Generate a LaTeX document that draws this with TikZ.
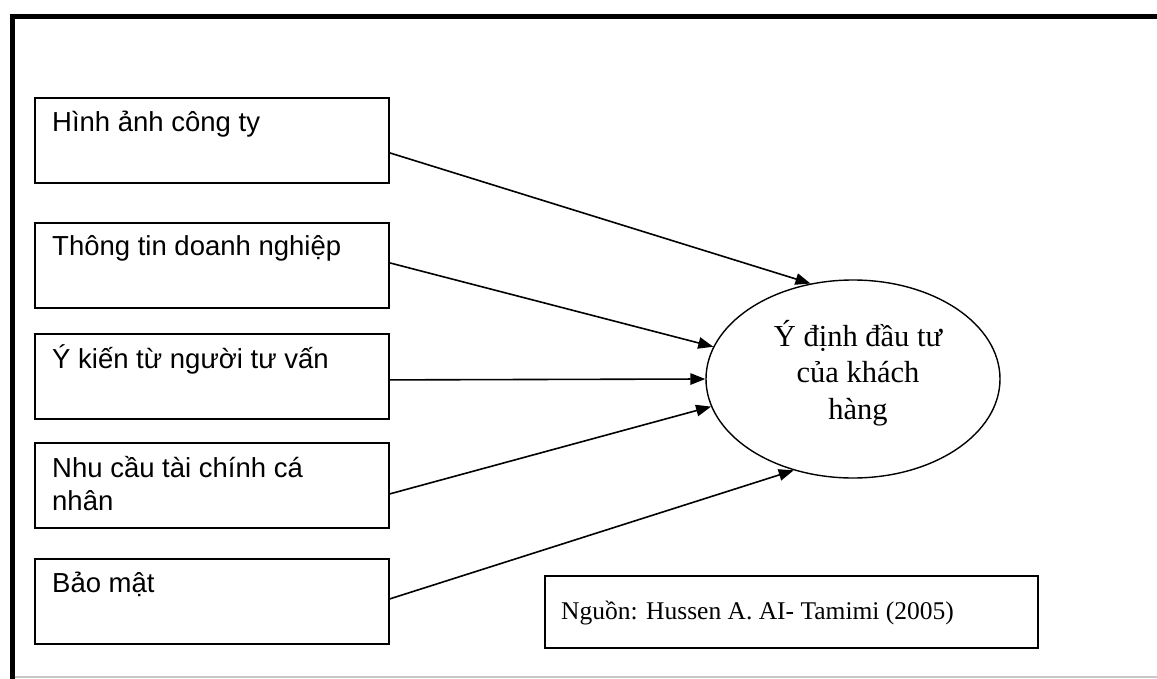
\documentclass[tikz,border=0pt]{standalone}
\usepackage{fontspec}
\setmainfont{Liberation Serif}
\newfontfamily\arialf{Liberation Sans}
\usetikzlibrary{arrows.meta,shapes.geometric,calc}
\begin{document}
\begin{tikzpicture}[x=1pt,y=-1pt,
  factor/.style={draw, line width=1.8pt, minimum width=354pt, minimum height=85pt, inner sep=0pt, anchor=north west},
  ftext/.style={anchor=base west, inner sep=0pt, font=\arialf\fontsize{27.5}{33}\selectfont, align=left},
  link/.style={line width=1.6pt, -{Triangle[length=15pt,width=11.5pt]}},
]
\useasboundingbox (0,0) rectangle (1157,679);
% outer frame
\draw[line width=5pt] (12,679) -- (12,17) -- (1157,17);
\draw[black!22, line width=1.5pt] (14.5,677) -- (1157,677);

% factor boxes
\node[factor] (b1) at (34,97) {};
\node[factor] (b2) at (34,222) {};
\node[factor] (b3) at (34,333) {};
\node[factor] (b4) at (34,442) {};
\node[factor] (b5) at (34,558) {};

\node[ftext] (t1) at ([xshift=18pt,yshift=-35pt]b1.north west) {Hình ảnh công ty};
\node[ftext] (t2) at ([xshift=18pt,yshift=-34pt]b2.north west) {Thông tin doanh nghiệp};
\node[ftext] (t3) at ([xshift=18pt,yshift=-35pt]b3.north west) {Ý kiến từ người tư vấn};
\node[ftext] (t4) at ([xshift=18pt,yshift=-68pt]b4.north west) {Nhu cầu tài chính cá\\nhân};
\node[ftext] (t5) at ([xshift=18pt,yshift=-34pt]b5.north west) {Bảo mật};

% outcome ellipse
\node[draw, ellipse, line width=1.4pt, minimum width=294pt, minimum height=198pt, inner sep=0pt] (ell) at (853,379) {};
\node[font=\fontsize{30.5}{36.5}\selectfont, align=center, inner sep=0pt] (et) at (858,373) {Ý định đầu tư\\của khách\\hàng};

% source box
\node[draw, line width=1.8pt, minimum width=493pt, minimum height=72pt, anchor=north west, inner sep=0pt] (src) at (544,575) {};
\node[anchor=base west, inner sep=0pt, font=\fontsize{25.5}{30}\selectfont] (srct) at ([xshift=17pt,yshift=-44pt]src.north west) {Nguồn: Hussen A. AI- Tamimi (2005)};

% arrows
\draw[link] ([yshift=-12.5pt]b1.east) -- (ell.114.7);
\draw[link] ([yshift=2.5pt]b2.east) -- (ell.167.8);
\draw[link] ([yshift=-3.5pt]b3.east) -- (ell.180);
\draw[link] ([yshift=-8.5pt]b4.east) -- (ell.191.2);
\draw[link] ([yshift=2.5pt]b5.east) -- (ell.237.7);
\end{tikzpicture}
\end{document}
